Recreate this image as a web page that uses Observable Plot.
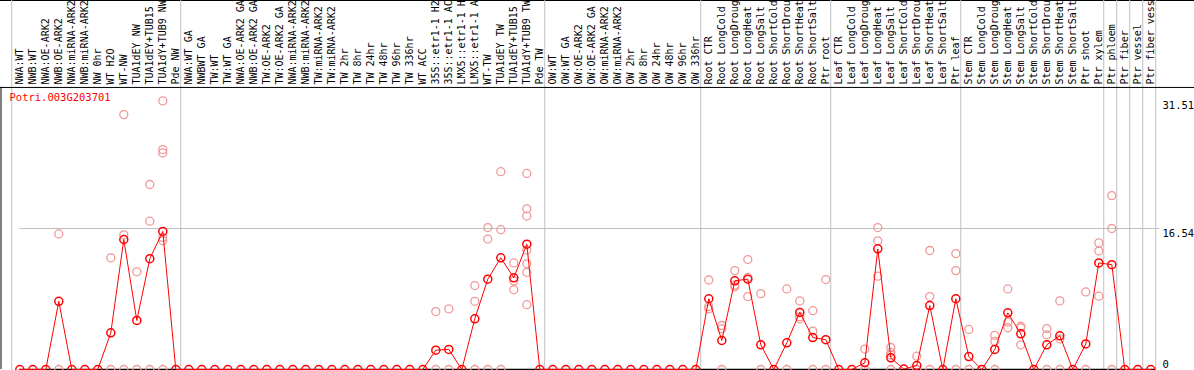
<!DOCTYPE html>
<html><head><meta charset="utf-8">
<script src="https://cdn.jsdelivr.net/npm/d3@7"></script>
<script src="https://cdn.jsdelivr.net/npm/@observablehq/plot@0.6"></script>
<style>html,body{margin:0;padding:0;background:#fff;}</style>
</head><body><div id="chart"></div>
<script>
const geneId = "Potri.003G203701";
const samples = [
  "NWA:WT","NWB:WT","NWA:OE-ARK2","NWB:OE-ARK2","NWA:miRNA-ARK2","NWB:miRNA-ARK2","NW 0hr","WT H2O","WT-NW","TUA1dEY NW","TUA1dEY+TUB15","TUA1dY+TUB9 NW","Pde NW",
  "NWA:WT GA","NWBWT GA","TW:WT","TW:WT GA","NWA:OE-ARK2 GA","NWB:OE-ARK2 GA","TW:OE-ARK2","TW:OE-ARK2 GA","NWA:miRNA-ARK2","NWB:miRNA-ARK2","TW:miRNA-ARK2","TW:miRNA-ARK2","TW 2hr","TW 8hr","TW 24hr","TW 48hr","TW 96hr","TW 336hr","WT ACC","35S::etr1-1 H2","35S::etr1-1 AC","LMX5::etr1-1 H","LMX5::etr1-1 A","WT-TW","TUA1dEY TW","TUA1dEY+TUB15","TUA1dY+TUB9 TW","Pde TW",
  "OW:WT","OW:WT GA","OW:OE-ARK2","OW:OE-ARK2 GA","OW:miRNA-ARK2","OW:miRNA-ARK2","OW 2hr","OW 8hr","OW 24hr","OW 48hr","OW 96hr","OW 336hr",
  "Root CTR","Root LongCold","Root LongDroug","Root LongHeat","Root LongSalt","Root ShortCold","Root ShortDrou","Root ShortHeat","Root ShortSalt","Ptr root",
  "Leaf CTR","Leaf LongCold","Leaf LongDroug","Leaf LongHeat","Leaf LongSalt","Leaf ShortCold","Leaf ShortDrou","Leaf ShortHeat","Leaf ShortSalt","Ptr leaf",
  "Stem CTR","Stem LongCold","Stem LongDroug","Stem LongHeat","Stem LongSalt","Stem ShortCold","Stem ShortDrou","Stem ShortHeat","Stem ShortSalt","Ptr shoot",
  "Ptr xylem","Ptr phloem","Ptr fiber","Ptr vessel","Ptr fiber vess"
];
const means = [
  0,0,0,8.0,0,0,0,4.3,15.25,5.75,13.0,16.2,0,
  0,0,0,0,0,0,0,0,0,0,0,0,0,0,0,0,0,0,0,2.27,2.35,0,5.95,10.6,13.1,10.75,14.7,0,
  0,0,0,0,0,0,0,0,0,0,0,0,
  8.3,3.4,10.4,10.6,2.9,0,3.13,6.7,3.75,3.5,
  0,0,0.79,14.15,1.37,0.05,0.47,7.5,0,8.3,
  1.52,0,2.35,6.65,4.18,0,2.9,3.95,0,3.0,
  12.5,12.3,0,0,0
];
const repCol = [
  3,3, 7,7, 8,8,8, 9,9, 10,10,10, 11,11,11,11,11,11,
  32,32, 33,33, 35,35,35, 36,36,36, 37,37,37, 38,38,38, 39,39,39,39,39,39,39,
  53,53,53, 54,54,54, 55,55,55, 56,56,56, 57,57, 59,59, 60,60,60, 61,61,61, 62,62,
  65,65, 66,66,66, 67,67,67,67, 69,69, 70,70,70, 72,72,72,
  73,73, 75,75,75, 76,76,76, 77,77,77, 79,79,79, 80,80,80, 82,82,
  83,83,83, 84,84,84
];
const repVal = [
  15.9,0, 13.1,0, 29.9,15.8,0, 11.46,0, 21.7,17.4,0, 31.51,25.8,25.4,15.5,15.1,0,
  6.8,0, 7.1,0, 9.85,8.0,0, 16.65,15.3,0, 23.2,16.4,0, 12.5,10.4,9.35, 23.0,18.85,18.0,14.0,12.4,11.4,7.6,
  10.5,7.1,7.4, 5.16,4.77,0, 11.6,9.7,9.9, 12.9,10.8,8.56, 8.9,0, 9.45,0, 8.05,5.95,6.2, 6.9,4.5,0, 10.55,0,
  2.4,0, 16.65,15.1,10.95, 2.58,2.0,1.7,0, 1.56,0, 13.96,8.56,0, 13.6,11.6,0,
  4.7,0, 4.0,3.3,0, 9.45,5.55,4.9, 5.08,4.9,2.9, 4.8,4.07,0, 8.05,3.6,0, 9.1,0,
  14.85,13.9,8.6, 20.4,16.54,0
];
const groupEnds = [-1, 12, 40, 52, 62, 72, 83, 84, 85, 86, 87];
const yTicks = [31.51, 16.54, 0];

const meanData = samples.map((s, i) => ({i, s, v: means[i]}));
const repData = repCol.map((c, k) => ({i: c, v: repVal[k]}));
const yMax = d3.max(repVal.concat(means));
const xStart = -1.4846, xEnd = 90.3615;
const lastEdge = groupEnds[groupEnds.length - 1] + 0.38;

const chart = Plot.plot({
  width: 1194, height: 370, margin: 0,
  style: {fontFamily: "'DejaVu Sans Mono', monospace", fontSize: "10px", background: "white", overflow: "hidden"},
  x: {type: "linear", domain: [xStart, xEnd], axis: null},
  y: {type: "linear", domain: [0, 16.54], range: [369, 228], axis: null},
  marks: [
    Plot.frame({anchor: "top", stroke: "black"}),
    Plot.ruleX(groupEnds, {x: d => d + 0.38, stroke: "#c0c0c0", strokeWidth: 1, strokeOpacity: 1}),
    Plot.ruleY([16.54], {x2: lastEdge + 0.3, stroke: "#c0c0c0", strokeWidth: 1, strokeOpacity: 1}),
    Plot.ruleY([yMax * 1.05], {stroke: "black", strokeWidth: 1, strokeOpacity: 1}),
    Plot.ruleX([xStart], {y1: 0, y2: yMax * 1.05, stroke: "black", strokeWidth: 1, strokeOpacity: 1, dx: 0.5}),
    Plot.ruleY([0], {x2: lastEdge, stroke: "black", strokeWidth: 1.5, strokeOpacity: 1}),
    Plot.text(meanData, {x: "i", text: "s", frameAnchor: "top", dy: 84, rotate: -90, textAnchor: "start", lineAnchor: "middle", fill: "black"}),
    Plot.text([geneId], {frameAnchor: "top-left", dx: 9, dy: 97, textAnchor: "start", lineAnchor: "middle", fill: "red", fontSize: 10.5}),
    Plot.text(yTicks.filter(v => v > 0), {y: d => d, text: d => d.toFixed(2), frameAnchor: "right", dx: -32, textAnchor: "start", lineAnchor: "top", dy: 1, fill: "black", fontSize: 10.5}),
    Plot.text(yTicks.filter(v => v === 0), {y: d => d, text: d => String(d), frameAnchor: "right", dx: -32, textAnchor: "start", lineAnchor: "bottom", dy: -2, fill: "black", fontSize: 10.5}),
    Plot.dot(repData, {x: "i", y: "v", r: 4, stroke: "#f09898", strokeWidth: 1.3, fill: "none"}),
    Plot.line(meanData, {x: "i", y: "v", stroke: "red", strokeWidth: 1}),
    Plot.dot(meanData, {x: "i", y: "v", r: 4, stroke: "red", strokeWidth: 1.5, fill: "none"})
  ]
});
document.getElementById("chart").appendChild(chart);
</script>
</body></html>
